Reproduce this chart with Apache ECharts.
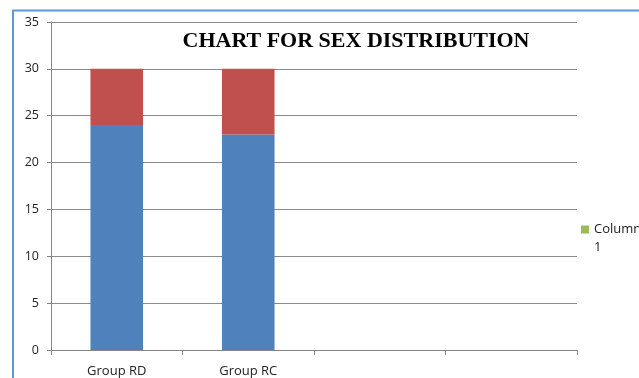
<!DOCTYPE html>
<html>
<head>
<meta charset="utf-8">
<script src="https://cdn.jsdelivr.net/npm/echarts@6/dist/echarts.min.js"></script>
<style>
html,body{margin:0;padding:0;background:#fff;}
#c{width:639px;height:378px;}
</style>
</head>
<body>
<div id="c"></div>
<script>
const categories = ['Group RD', 'Group RC', '', ''];
const seriesBlue = [24, 23, null, null];
const seriesRed = [6, 7, null, null];
const seriesColumn1 = [null, null, null, null];
const titleText = 'CHART FOR SEX DISTRIBUTION';
const legendName = 'Column 1';

const chart = echarts.init(document.getElementById('c'));
chart.setOption({
  animation: false,
  title: {
    text: titleText,
    left: 351, top: 25, textAlign: 'center',
    textStyle: {fontFamily: 'Liberation Serif', fontWeight: 'bold', fontSize: 22, color: '#000'}
  },
  legend: {
    data: [legendName],
    left: 576, top: 218,
    orient: 'vertical',
    itemWidth: 8, itemHeight: 8, itemGap: 4,
    icon: 'rect',
    formatter: function(n){ return n.split(' ')[0]; },
    textStyle: {fontFamily: 'Open Sans', fontSize: 13, color: '#222'}
  },
  graphic: [
    {type: 'rect', shape: {x: 13, y: 10.5, width: 800, height: 600},
     style: {fill: 'none', stroke: '#5B9BD5', lineWidth: 2}, silent: true},
    {type: 'text', left: 594, top: 241,
     style: {text: legendName.split(' ')[1], fontFamily: 'Open Sans', fontSize: 13, fill: '#222'}, silent: true}
  ],
  grid: {left: 51, top: 22, right: 62, bottom: 28, containLabel: false},
  xAxis: {
    type: 'category', data: categories,
    axisLine: {lineStyle: {color: '#868686'}},
    axisTick: {show: true, alignWithLabel: false, length: 5, lineStyle: {color: '#868686'}},
    axisLabel: {fontFamily: 'Open Sans', fontSize: 13, color: '#222', margin: 15}
  },
  yAxis: {
    type: 'value', min: 0, max: 35, interval: 5,
    axisLine: {show: true, lineStyle: {color: '#868686'}},
    axisTick: {show: true, length: 4, lineStyle: {color: '#868686'}},
    splitLine: {lineStyle: {color: '#8a8a8a'}},
    axisLabel: {fontFamily: 'Open Sans', fontSize: 12.5, color: '#222', margin: 12}
  },
  series: [
    {name: 'Male', type: 'bar', stack: 's', data: seriesBlue, barWidth: '40%', itemStyle: {color: '#4F81BD'}},
    {name: 'Female', type: 'bar', stack: 's', data: seriesRed, barWidth: '40%', itemStyle: {color: '#C0504D'}},
    {name: legendName, type: 'bar', stack: 's', data: seriesColumn1, barWidth: '40%', itemStyle: {color: '#9BBB59'}}
  ]
});
</script>
</body>
</html>
